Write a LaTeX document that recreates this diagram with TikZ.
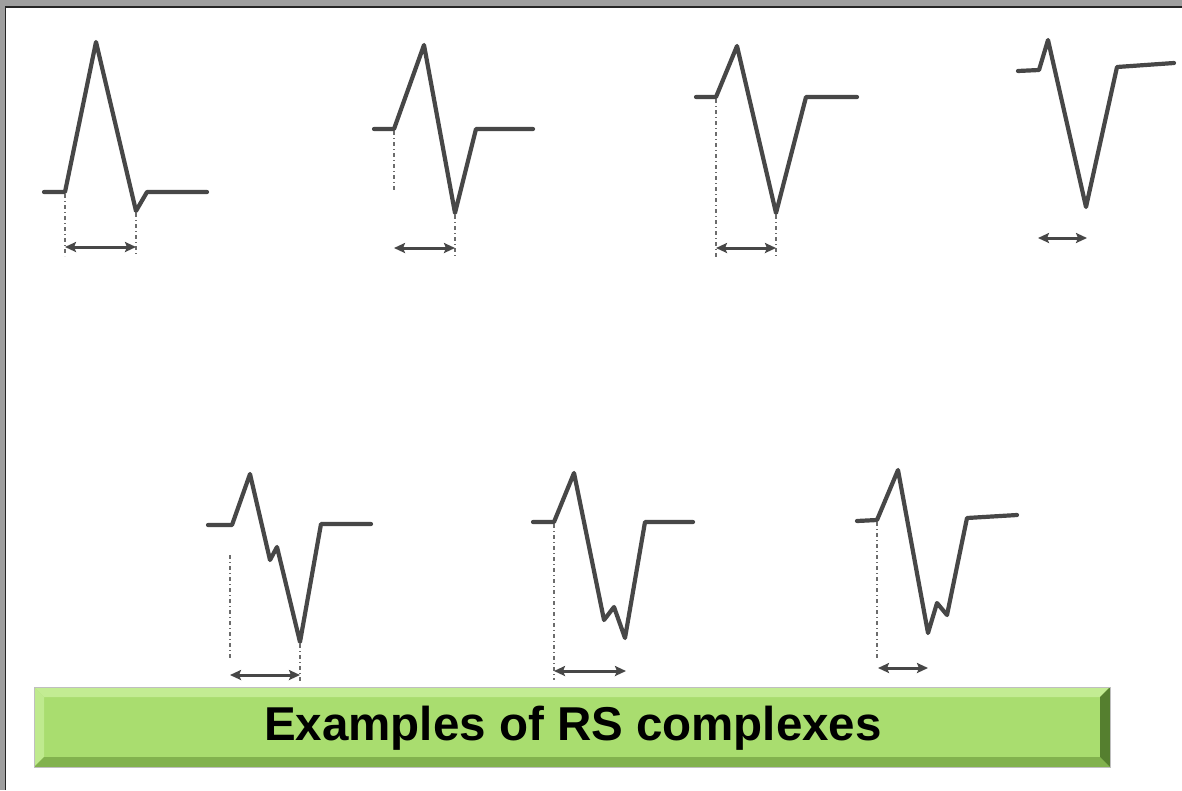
\documentclass[tikz,border=0pt]{standalone}
\usepackage{fontspec}
\setmainfont{Liberation Sans}
\usetikzlibrary{arrows.meta}
\definecolor{wave}{HTML}{474747}
\definecolor{gmid}{HTML}{A9DD6F}
\definecolor{glight}{HTML}{C3EC93}
\definecolor{gdark}{HTML}{82B24E}
\definecolor{gdarker}{HTML}{557F2F}
\tikzset{
  wavepath/.style={draw=wave, line width=4.2pt, line join=round, line cap=round},
  guide/.style={draw=wave!80, line width=1.3pt, dash pattern=on 4pt off 3pt on 1pt off 3pt},
  dur/.style={draw=wave, line width=3pt, arrows={Stealth[length=11pt,width=10pt,inset=2pt]-Stealth[length=11pt,width=10pt,inset=2pt]}},
  titletext/.style={font=\bfseries\fontsize{47.5}{50}\selectfont, text=black, inner sep=0pt}
}
\begin{document}
\begin{tikzpicture}[x=1pt,y=-1pt]
\useasboundingbox (0,0) rectangle (1182,790);
\fill[white] (0,0) rectangle (1182,790);
% frame
\fill[gray!75] (0,0) rectangle (1182,6);
\fill[gray!75] (0,0) rectangle (4.5,790);
\draw[black!85, line width=1.6pt] (5.5,790) -- (5.5,6.8) -- (1182,6.8);

% complex 1
\draw[wavepath] (44,192) -- (65,192) -- (96,42) -- (136,211) -- (147,192) -- (207,192);
\draw[guide] (65,194) -- (65,256);
\draw[guide] (136,213) -- (136,256);
\coordinate (a1) at (65,247); \coordinate (b1) at (136,247);
\draw[dur] (a1) -- (b1);

% complex 2
\draw[wavepath] (374,129) -- (394,129) -- (424,45) -- (455,213) -- (476,129) -- (533,129);
\draw[guide] (394,131) -- (394,190);
\draw[guide] (455,215) -- (455,256);
\coordinate (a2) at (394,248); \coordinate (b2) at (455,248);
\draw[dur] (a2) -- (b2);

% complex 3
\draw[wavepath] (696,97) -- (716,97) -- (737,46) -- (776,213) -- (806,97) -- (857,97);
\draw[guide] (716,99) -- (716,257);
\draw[guide] (776,215) -- (776,257);
\coordinate (a3) at (716,248); \coordinate (b3) at (776,248);
\draw[dur] (a3) -- (b3);

% complex 4
\draw[wavepath] (1018,71) -- (1039,70) -- (1048,40) -- (1086,207) -- (1117,67) -- (1174,63);
\coordinate (a4) at (1038,238); \coordinate (b4) at (1087,238);
\draw[dur] (a4) -- (b4);

% complex 5
\draw[wavepath] (208,525) -- (232,525) -- (250,474) -- (270,560) -- (277,547) -- (300,642) -- (321,524) -- (371,524);
\draw[guide] (230,555) -- (230,660);
\draw[guide] (300,644) -- (300,683);
\coordinate (a5) at (230,675); \coordinate (b5) at (300,675);
\draw[dur] (a5) -- (b5);

% complex 6
\draw[wavepath] (533,522) -- (554,522) -- (574,473) -- (604,620) -- (614,607) -- (625,638) -- (645,522) -- (693,522);
\draw[guide] (554,524) -- (554,680);
\coordinate (a6) at (554,671); \coordinate (b6) at (626,671);
\draw[dur] (a6) -- (b6);

% complex 7
\draw[wavepath] (857,521) -- (877,520) -- (898,470) -- (928,633) -- (937,603) -- (947,615) -- (967,518) -- (1017,515);
\draw[guide] (877,522) -- (877,658);
\coordinate (a7) at (878,668); \coordinate (b7) at (928,668);
\draw[dur] (a7) -- (b7);

% title banner
\fill[gmid] (34,687) rectangle (1110,767);
\fill[glight] (34,687) -- (1110,687) -- (1100,697) -- (44,697) -- cycle;
\fill[glight!85!gmid] (34,687) -- (44,697) -- (44,757) -- (34,767) -- cycle;
\fill[gdark] (34,767) -- (44,757) -- (1100,757) -- (1110,767) -- cycle;
\fill[gdarker] (1110,687) -- (1100,697) -- (1100,757) -- (1110,767) -- cycle;
\draw[gray!50, line width=0.8pt] (34,687) rectangle (1110,767);
\node[titletext] (title) at (573,728) {Examples of RS complexes};
\end{tikzpicture}
\end{document}
